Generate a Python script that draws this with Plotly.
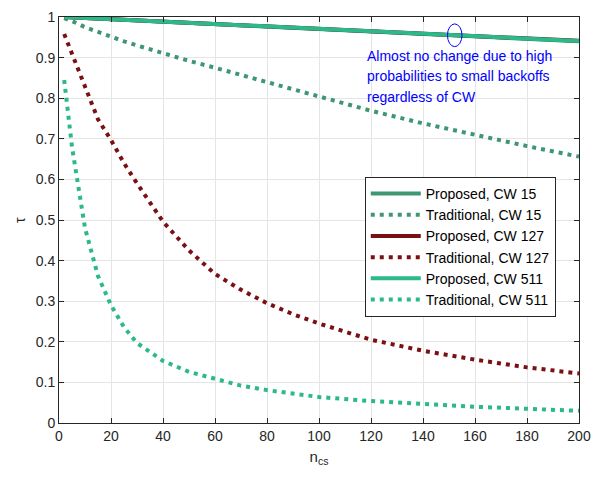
import plotly.graph_objects as go

# ---- data ----
n_prop = [2, 50, 100, 150, 200]
prop_cw15 = [1.0, 0.985, 0.970, 0.955, 0.940]
prop_cw127 = [1.0, 0.9853, 0.9705, 0.9557, 0.9412]
prop_cw511 = [1.0, 0.9852, 0.9703, 0.9555, 0.9410]

n_trad = [2, 5, 10, 15, 20, 25, 30, 40, 50, 60, 70, 80, 90, 100, 120, 140, 160, 180, 200]
trad_cw15 = [0.997, 0.99, 0.975, 0.963, 0.951, 0.940, 0.930, 0.910, 0.892, 0.875, 0.857,
             0.839, 0.821, 0.803, 0.769, 0.738, 0.709, 0.682, 0.656]
trad_cw127 = [0.958, 0.91, 0.83, 0.748, 0.697, 0.640, 0.590, 0.496, 0.425, 0.367, 0.328,
              0.295, 0.268, 0.245, 0.205, 0.178, 0.156, 0.137, 0.122]
trad_cw511 = [0.845, 0.68, 0.48, 0.362, 0.29, 0.236, 0.197, 0.153, 0.126, 0.108, 0.092,
              0.081, 0.072, 0.064, 0.054, 0.046, 0.040, 0.035, 0.030]

names = ["Proposed, CW 15", "Traditional, CW 15", "Proposed, CW 127",
         "Traditional, CW 127", "Proposed, CW 511", "Traditional, CW 511"]

note_lines = ["Almost no change due to high",
              "probabilities to small backoffs",
              "regardless of CW"]

C15 = "#3f9672"
C127 = "#7a1012"
C511 = "#2bb98a"
DOT = "4px,5px"
FONT = "Liberation Sans, Arial"

fig = go.Figure()
series = [
    (n_prop, prop_cw15, C15, "solid"),
    (n_trad, trad_cw15, C15, DOT),
    (n_prop, prop_cw127, C127, "solid"),
    (n_trad, trad_cw127, C127, DOT),
    (n_prop, prop_cw511, C511, "solid"),
    (n_trad, trad_cw511, C511, DOT),
]
for (x, y, c, d), nm in zip(series, names):
    fig.add_trace(go.Scatter(x=x, y=y, mode="lines", name=nm,
                             line=dict(color=c, width=4, dash=d)))

fig.add_shape(type="circle", xref="x", yref="y", x0=149.4, x1=155.0, y0=0.927, y1=0.983,
              line=dict(color="#0000ff", width=1))
for i, t in enumerate(note_lines):
    fig.add_annotation(x=117.5, y=0.905 - 0.0505 * i, xref="x", yref="y",
                       xanchor="left", yanchor="middle", align="left", showarrow=False,
                       text=t, font=dict(family=FONT, size=14, color="#0000ff"))

# y-axis title (tau)
fig.add_annotation(x=-0.075, y=0.5, xref="paper", yref="paper", xanchor="center",
                   yanchor="middle", showarrow=False, textangle=-90, text="τ",
                   font=dict(family=FONT, size=14, color="#262626"))

axis_common = dict(showline=True, linecolor="#262626", linewidth=1, mirror="ticks",
                   ticks="inside", ticklen=5, tickcolor="#262626", automargin=False,
                   showgrid=True, gridcolor="#e5e5e5", gridwidth=1, zeroline=False,
                   tickfont=dict(family=FONT, size=14, color="#262626"))
fig.update_xaxes(range=[0, 200], tick0=0, dtick=20,
                 title=dict(text="n<sub>cs</sub>", font=dict(family=FONT, size=15, color="#262626"), standoff=8),
                 **axis_common)
fig.update_yaxes(range=[0, 1], tick0=0, dtick=0.1, tickformat="~g", **axis_common)

fig.update_layout(
    width=597, height=479, autosize=False,
    margin=dict(l=59, r=18, t=17, b=56),
    paper_bgcolor="white", plot_bgcolor="white",
    showlegend=True,
    legend=dict(x=0.588, y=0.606, xanchor="left", yanchor="top",
                bgcolor="white", bordercolor="#262626", borderwidth=1,
                font=dict(family=FONT, size=14, color="#000000"),
                tracegroupgap=0, itemwidth=50),
)

fig.write_html("out.html")
